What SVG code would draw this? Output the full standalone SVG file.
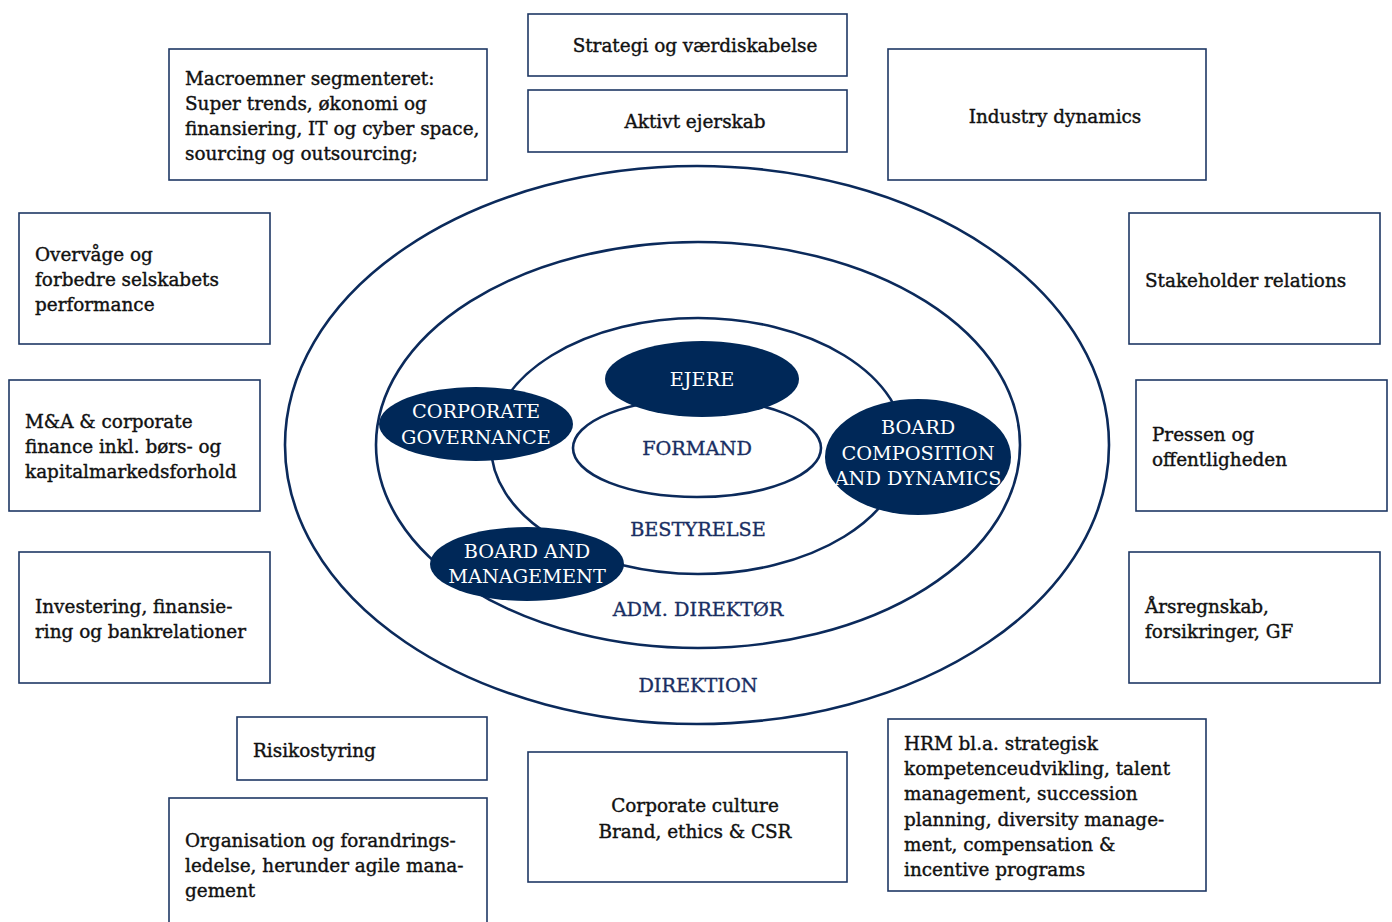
<svg xmlns="http://www.w3.org/2000/svg" width="1392" height="922" viewBox="0 0 1392 922">
<style>
.box{fill:#fff;stroke:#1f3864;stroke-width:1.6}
.t{font-family:"DejaVu Serif","Liberation Serif",serif;font-size:18.4px;fill:#111;stroke:#111;stroke-width:0.4}
.c{text-anchor:middle}
.ring{fill:none;stroke:#0b2a5b;stroke-width:2.6}
.blob{fill:#002858}
.w{font-family:"DejaVu Serif","Liberation Serif",serif;font-size:19.3px;fill:#fff;text-anchor:middle}
.n{font-family:"DejaVu Serif","Liberation Serif",serif;font-size:19.3px;fill:#1a2f63;stroke:#1a2f63;stroke-width:0.35;text-anchor:middle}
</style>
<rect width="1392" height="922" fill="#fff"/>
<g id="rings">
<ellipse class="ring" cx="697" cy="445" rx="412" ry="279"/>
<ellipse class="ring" cx="698" cy="445" rx="322" ry="203"/>
<ellipse class="ring" cx="698" cy="446" rx="207" ry="128"/>
<ellipse class="ring" cx="697" cy="448" rx="124" ry="49"/>
<text class="n" x="697" y="455">FORMAND</text>
<text class="n" x="698" y="536">BESTYRELSE</text>
<text class="n" x="698" y="616">ADM. DIREKTØR</text>
<text class="n" x="698" y="692">DIREKTION</text>
</g>
<g id="ejere"><ellipse class="blob" cx="702" cy="379" rx="97" ry="38"/><text class="w" x="702" y="386">EJERE</text></g>
<g id="cg"><ellipse class="blob" cx="476" cy="424" rx="97" ry="37"/><text class="w" x="476" y="418">CORPORATE</text><text class="w" x="476" y="444">GOVERNANCE</text></g>
<g id="bcd"><ellipse class="blob" cx="918" cy="457" rx="93" ry="58"/><text class="w" x="918" y="434">BOARD</text><text class="w" x="918" y="460">COMPOSITION</text><text class="w" x="918" y="485">AND DYNAMICS</text></g>
<g id="bam"><ellipse class="blob" cx="527" cy="564" rx="97" ry="37"/><text class="w" x="527" y="558">BOARD AND</text><text class="w" x="527" y="583">MANAGEMENT</text></g>

<g id="macro"><rect class="box" x="169" y="49" width="318" height="131"/>
<text class="t" x="185" y="85">Macroemner segmenteret:</text>
<text class="t" x="185" y="110">Super trends, økonomi og</text>
<text class="t" x="185" y="135">finansiering, IT og cyber space,</text>
<text class="t" x="185" y="160">sourcing og outsourcing;</text></g>
<g id="strategi"><rect class="box" x="528" y="14" width="319" height="62"/><text class="t c" x="695" y="52">Strategi og værdiskabelse</text></g>
<g id="aktivt"><rect class="box" x="528" y="90" width="319" height="62"/><text class="t c" x="695" y="128">Aktivt ejerskab</text></g>
<g id="industry"><rect class="box" x="888" y="49" width="318" height="131"/><text class="t c" x="1055" y="123">Industry dynamics</text></g>
<g id="overvaage"><rect class="box" x="19" y="213" width="251" height="131"/>
<text class="t" x="35" y="261">Overvåge og</text><text class="t" x="35" y="286">forbedre selskabets</text><text class="t" x="35" y="311">performance</text></g>
<g id="stakeholder"><rect class="box" x="1129" y="213" width="251" height="131"/><text class="t" x="1145" y="287">Stakeholder relations</text></g>
<g id="ma"><rect class="box" x="9" y="380" width="251" height="131"/>
<text class="t" x="25" y="428">M&amp;A &amp; corporate</text><text class="t" x="25" y="453">finance inkl. børs- og</text><text class="t" x="25" y="478">kapitalmarkedsforhold</text></g>
<g id="pressen"><rect class="box" x="1136" y="380" width="251" height="131"/>
<text class="t" x="1152" y="441">Pressen og</text><text class="t" x="1152" y="466">offentligheden</text></g>
<g id="investering"><rect class="box" x="19" y="552" width="251" height="131"/>
<text class="t" x="35" y="613">Investering, finansie-</text><text class="t" x="35" y="638">ring og bankrelationer</text></g>
<g id="aarsregnskab"><rect class="box" x="1129" y="552" width="251" height="131"/>
<text class="t" x="1145" y="613">Årsregnskab,</text><text class="t" x="1145" y="638">forsikringer, GF</text></g>
<g id="risiko"><rect class="box" x="237" y="717" width="250" height="63"/><text class="t" x="253" y="757">Risikostyring</text></g>
<g id="culture"><rect class="box" x="528" y="752" width="319" height="130"/>
<text class="t c" x="695" y="812">Corporate culture</text><text class="t c" x="695" y="838">Brand, ethics &amp; CSR</text></g>
<g id="hrm"><rect class="box" x="888" y="719" width="318" height="172"/>
<text class="t" x="904" y="750">HRM bl.a. strategisk</text>
<text class="t" x="904" y="775">kompetenceudvikling, talent</text>
<text class="t" x="904" y="800">management, succession</text>
<text class="t" x="904" y="826">planning, diversity manage-</text>
<text class="t" x="904" y="851">ment, compensation &amp;</text>
<text class="t" x="904" y="876">incentive programs</text></g>
<g id="organisation"><rect class="box" x="169" y="798" width="318" height="140"/>
<text class="t" x="185" y="847">Organisation og forandrings-</text>
<text class="t" x="185" y="872">ledelse, herunder agile mana-</text>
<text class="t" x="185" y="897">gement</text></g>
</svg>
